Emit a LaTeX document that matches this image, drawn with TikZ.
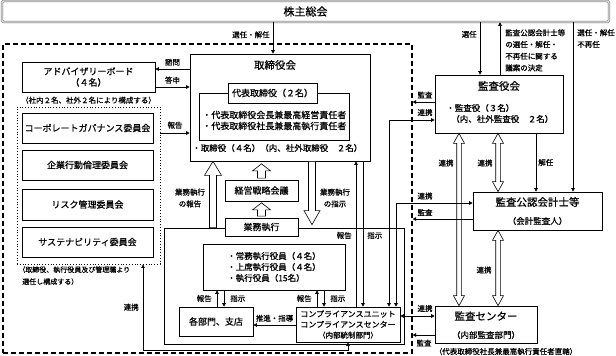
\documentclass[tikz,border=0pt]{standalone}
\usepackage{fontspec}
\setmainfont{Noto Sans CJK JP}[FakeBold=0.6]
\usetikzlibrary{arrows.meta,positioning,calc}

% fleche creuse : depart, pointe, demi-tige, demi-tete, longueur tete
\newcommand{\flecheCreuse}[5]{%
  \draw[fill=white] let \p1=(#1), \p2=(#2), \p3=($(#2)!#5!(#1)$) in
    (\x1-#3,\y1) -- (\x1-#3,\y3) -- (\x1-#4,\y3) -- (\x1,\y2)
    -- (\x1+#4,\y3) -- (\x1+#3,\y3) -- (\x1+#3,\y1) -- cycle;}
% fleche creuse a deux pointes
\newcommand{\flecheDouble}[5]{%
  \draw[fill=white] let \p1=(#1), \p2=(#2), \p3=($(#1)!#5!(#2)$), \p4=($(#2)!#5!(#1)$) in
    (\x1,\y1) -- (\x1-#4,\y3) -- (\x1-#3,\y3) -- (\x1-#3,\y4) -- (\x1-#4,\y4) -- (\x1,\y2)
    -- (\x1+#4,\y4) -- (\x1+#3,\y4) -- (\x1+#3,\y3) -- (\x1+#4,\y3) -- cycle;}

\begin{document}
\begin{tikzpicture}[x=1pt,y=-1pt,line width=0.6pt,
  >={Triangle[length=3.5pt,width=3.5pt]},
  boite/.style={draw,line width=0.7pt,fill=white,inner sep=0pt,align=center},
  gros/.style={font=\fontsize{11pt}{13pt}\selectfont},
  titre/.style={font=\fontsize{10.5pt}{12pt}\selectfont},
  texte/.style={font=\fontsize{9pt}{11pt}\selectfont},
  moyen/.style={font=\fontsize{8.5pt}{11pt}\selectfont},
  etiq/.style={font=\fontsize{7.5pt}{11.7pt}\selectfont,inner sep=0pt}]
  \useasboundingbox (0,0) rectangle (616,356);
  % --- cadres de groupe ---
  \node[draw,line width=1.2pt,dash pattern=on 5pt off 3pt,minimum width=409pt,minimum height=309pt,inner sep=0pt] (groupe) at (207.5,198.5) {};
  \node[draw,dotted,line width=0.8pt,minimum width=143pt,minimum height=157pt,inner sep=0pt] (iinkai) at (88.5,185.5) {};
  % --- assemblee generale ---
  \node[boite,gros,draw=black!55,double=black!12,double distance=1.4pt,line width=0.5pt,rounded corners=1.5pt,minimum width=607pt,minimum height=21pt] (soukai) at (305.5,11.5) {株主総会};
  % --- conseil d'administration ---
  \node[boite,minimum width=180pt,minimum height=107pt] (bod) at (280,107.5) {};
  \node[titre] (bodT) at (275,65) {取締役会};
  \node[boite,minimum width=150pt,minimum height=47pt] (daihyo) at (274,116.5) {};
  \node[boite,texte,minimum width=89pt,minimum height=20pt] (daihyoT) at (272.5,93) {代表取締役（２名）};
  \node[texte,anchor=west,align=left,inner sep=0pt] (daihyoL) at (202,120.5) {・代表取締役会長兼最高経営責任者\\・代表取締役社長兼最高執行責任者};
  \node[moyen,anchor=west,inner sep=0pt] (bodL) at (192,148) {・取締役（４名）（内、社外取締役　２名）};
  % --- comite consultatif et comites ---
  \node[boite,texte,minimum width=133pt,minimum height=30pt] (advisory) at (88.5,77) {アドバイザリーボード\\（４名）};
  \node[etiq,below=4pt of advisory] (advisoryN) {（社内２名、社外２名により構成する）};
  \node[boite,texte,minimum width=131pt,minimum height=30pt] (cg) at (87.5,128) {コーポレートガバナンス委員会};
  \node[boite,texte,minimum width=131pt,minimum height=30pt] (rinri) at (87.5,165) {企業行動倫理委員会};
  \node[boite,texte,minimum width=131pt,minimum height=31pt] (risk) at (87.5,204.5) {リスク管理委員会};
  \node[boite,texte,minimum width=131pt,minimum height=30pt] (sustain) at (87.5,242) {サステナビリティ委員会};
  \node[font=\fontsize{7pt}{12pt}\selectfont,inner sep=0pt,anchor=north west,align=left] (iinkaiN) at (18,266) {（取締役、執行役員及び管理職より\\\hspace*{4pt}選任し構成する）};
  % --- audit ---
  \node[boite,minimum width=128pt,minimum height=58pt] (kansayaku) at (499,104) {};
  \node[titre] (kansayakuT) at (499,86) {監査役会};
  \node[moyen,anchor=west,align=left,inner sep=0pt] (kansayakuL) at (446,113.5) {・監査役（３名）\\\hspace*{5pt}（内、社外監査役　２名）};
  \node[boite,minimum width=129pt,minimum height=38pt] (kaikei) at (537.5,211) {};
  \node[titre] (kaikeiT) at (537.5,202) {監査公認会計士等};
  \node[moyen] (kaikeiS) at (537.5,221) {（会計監査人）};
  \node[boite,minimum width=102pt,minimum height=37pt] (kansaC) at (486,324.5) {};
  \node[titre] (kansaCT) at (486,316) {監査センター};
  \node[moyen] (kansaCS) at (486,335) {（内部監査部門）};
  \node[etiq] (kansaCN) at (506,351.5) {（代表取締役社長兼最高執行責任者直轄）};
  % --- execution ---
  \node[boite,minimum width=240pt,minimum height=116pt] (shikko) at (284,286) {};
  \node[boite,texte,minimum width=73pt,minimum height=18pt] (gyomu) at (261.5,227) {業務執行};
  \node[boite,texte,minimum width=73pt,minimum height=21pt] (senryaku) at (261.5,190.5) {経営戦略会議};
  \node[boite,moyen,align=left,minimum width=142pt,minimum height=46pt] (yakuin) at (274,267) {・常務執行役員（４名）\\・上席執行役員（４名）\\・執行役員（15名）};
  \node[boite,texte,minimum width=74pt,minimum height=29pt] (bumon) at (216,321.5) {各部門、支店};
  \node[boite,font=\fontsize{8pt}{10.5pt}\selectfont,minimum width=104pt,minimum height=35pt] (compliance) at (348,324.5) {コンプライアンスユニット\\コンプライアンスセンター\\{\fontsize{7.5pt}{10pt}\selectfont（内部統制部門）}};
  % --- liaisons cote conseil ---
  \draw[->] (soukai.south -| 273,0) -- (bod.north -| 273,0) node[etiq,pos=0.4,left=3pt] (lSoukaiBod) {選任・解任};
  \draw[->] (bod.west |- 0,69) -- (advisory.east |- 0,69) node[etiq,midway,above=3pt] (lShimon) {諮問};
  \draw[->] (advisory.east |- 0,87) -- (bod.west |- 0,87) node[etiq,midway,above=3pt] (lToshin) {答申};
  \draw[->] (iinkai.east |- 0,133) -- (bod.west |- 0,133) node[etiq,midway,above=4pt] (lHoukokuI) {報告};
  \draw[<->] (iinkai.south -| 143,0) -- node[etiq,left=4pt] (lRenkeiI) {連携} (143,350) -| (compliance.south -| 348,0);
  % fleches creuses
  \flecheCreuse{shikko.north -| 213,0}{bod.south -| 213,0}{3.5pt}{8.5pt}{14pt}
  \flecheCreuse{$(gyomu.north)+(0,-1.5)$}{$(senryaku.south)+(0,1.5)$}{4pt}{9pt}{7pt}
  \flecheCreuse{$(senryaku.north)+(0,-1.5)$}{$(bod.south -| senryaku.north)+(0,2.5)$}{4pt}{9pt}{7pt}
  \flecheCreuse{bod.south -| 312,0}{$(shikko.north -| 312,0)+(0,-3)$}{3.5pt}{8pt}{14pt}
  \node[etiq,align=center] (lGyomuH) at (190,198) {業務執行\\の報告};
  \node[etiq,align=center] (lGyomuS) at (335,198) {業務執行\\の指示};
  \draw[->] (compliance.north -| 356,0) -- (bod.south -| 356,0) node[etiq,pos=0.49,left=4pt] (lHoukokuC) {報告};
  \draw[->] (bod.south -| 363,0) -- (compliance.north -| 363,0) node[etiq,pos=0.51,right=4pt] (lShijiC) {指示};
  % --- liaisons execution ---
  \draw[->] (bumon.north -| 217,0) -- (yakuin.south -| 217,0) node[etiq,midway,left=5pt] (lHoukokuB) {報告};
  \draw[->] (yakuin.south -| 224,0) -- (bumon.north -| 224,0) node[etiq,midway,right=6pt] (lShijiB) {指示};
  \draw[->] (compliance.north -| 317,0) -- (yakuin.south -| 317,0) node[etiq,midway,left=5pt] (lHoukokuY) {報告};
  \draw[->] (yakuin.south -| 324,0) -- (compliance.north -| 324,0) node[etiq,midway,right=6pt] (lShijiY) {指示};
  \draw[->] (compliance.west |- 0,325) -- (bumon.east |- 0,325) node[etiq,midway,above=3pt] (lSuishin) {推進・指導};
  % --- liaisons audit ---
  \draw[->] (soukai.south -| 480,0) -- (kansayaku.north -| 480,0) node[etiq,pos=0.23,left=3pt] (lSennin) {選任};
  \draw[->] (kansayaku.north -| 500,0) -- (soukai.south -| 500,0);
  \node[etiq,anchor=north west,align=left] (lGian) at (505,29) {監査公認会計士等\\の選任・解任・\\不再任に関する\\議案の決定};
  \draw[->] (soukai.south -| 573,0) -- (kaikei.north -| 573,0);
  \node[etiq,anchor=north west,align=left] (lSoukaiK) at (577,29) {選任・解任\\不再任};
  \draw[->] (kansayaku.south -| 536,0) -- (kaikei.north -| 536,0) node[etiq,midway,right=2pt] (lKainin) {解任};
  \flecheDouble{kansayaku.south -| 459,0}{kansaC.north -| 459,0}{2.3pt}{5.5pt}{10pt}
  \flecheDouble{kansayaku.south -| 498,0}{kaikei.north -| 498,0}{2.3pt}{5.5pt}{10pt}
  \flecheDouble{kaikei.south -| 498,0}{kansaC.north -| 498,0}{2.3pt}{5.5pt}{10pt}
  \node[etiq] (lRenkeiA) at (446,163) {連携};
  \node[etiq] (lRenkeiB) at (485,163) {連携};
  \node[etiq] (lRenkeiD) at (484,270) {連携};
  \draw[<->] (kansayaku.west |- 0,120) -| (compliance.north -| 389,0);
  \node[etiq] (lRenkeiK) at (425,112.5) {連携};
  \draw[->] (kansayaku.west |- 0,102) -- (groupe.east |- 0,102);
  \node[etiq] (lKansaK) at (425,95) {監査};
  \draw[<->] (kaikei.west |- 0,203) -| (compliance.north -| 396,0);
  \node[etiq] (lRenkeiKa) at (425,196) {連携};
  \draw[->] (kaikei.west |- 0,219) -- (groupe.east |- 0,219);
  \node[etiq] (lKansaKa) at (425,212.5) {監査};
  \draw[<->] (compliance.east |- 0,316) -- (kansaC.west |- 0,316);
  \node[etiq] (lRenkeiC) at (425,308.5) {連携};
  \draw[->] (kansaC.west |- 0,335) -- (groupe.east |- 0,335);
  \node[etiq] (lKansaC) at (424,343) {監査};
\end{tikzpicture}
\end{document}
